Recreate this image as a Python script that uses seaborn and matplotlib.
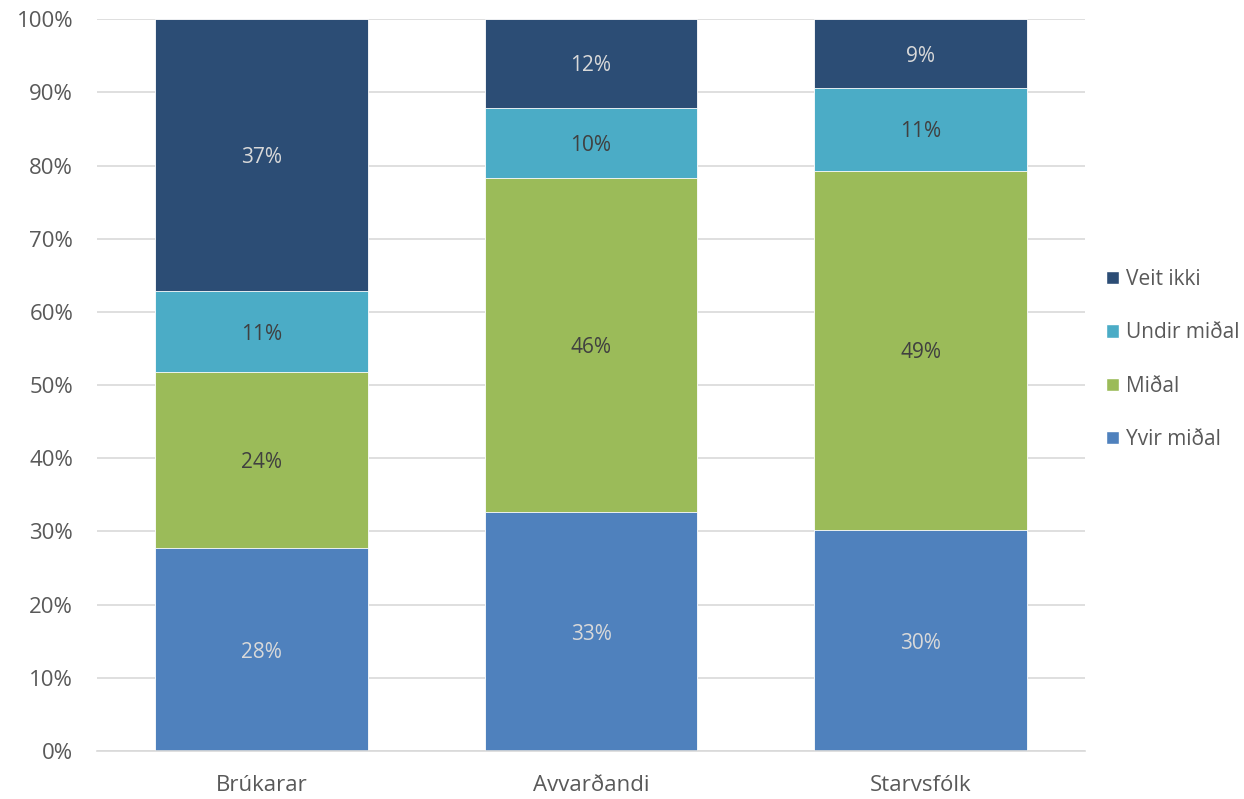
import matplotlib
matplotlib.use("Agg")
import matplotlib.pyplot as plt
import seaborn as sns
import pandas as pd
import numpy as np
from matplotlib.patches import Patch

# Data (percent)
hopar = ['Brúkarar', 'Avvarðandi', 'Starvsfólk']
yvir_midal = [27.7, 32.6, 30.2]
midal = [24.1, 45.7, 49.1]
undir_midal = [11.0, 9.6, 11.3]
veit_ikki = [37.2, 12.1, 9.4]

serir = ['Yvir miðal', 'Miðal', 'Undir miðal', 'Veit ikki']
litir = ['#4F81BD', '#9BBB59', '#4BACC6', '#2C4D75']
tekstlitir = ['#D9D9D9', '#404040', '#404040', '#D9D9D9']

sns.set_theme(style='white')
plt.rcParams['font.family'] = ['Open Sans', 'DejaVu Sans']

df = pd.DataFrame({'Hópur': hopar, 'Yvir miðal': yvir_midal, 'Miðal': midal,
                   'Undir miðal': undir_midal, 'Veit ikki': veit_ikki})
cum = df[serir].cumsum(axis=1)

fig = plt.figure(figsize=(12.44, 7.99), dpi=100)
ax = fig.add_axes([0.0778, 0.06, 0.7946, 0.916])

# draw cumulative totals from top down so lower series overlay
for s, c in reversed(list(zip(serir, litir))):
    sns.barplot(x=df['Hópur'], y=cum[s], color=c, width=0.646, ax=ax,
                edgecolor='white', linewidth=0.6, saturation=1)

# segment labels
for i in range(len(hopar)):
    bottom = 0
    for s, tc in zip(serir, tekstlitir):
        v = df.loc[i, s]
        ax.text(i, bottom + v / 2, f'{round(v):d}%', ha='center', va='center_baseline',
                fontsize=15, color=tc)
        bottom += v

ax.set_ylim(0, 100)
ax.set_xlim(-0.5, 2.5)
ax.set_yticks(np.arange(0, 101, 10))
ax.set_yticklabels([f'{t}%' for t in range(0, 101, 10)])
ax.yaxis.grid(True, color='#D9D9D9', linewidth=1.2)
ax.set_axisbelow(True)
for sp in ['top', 'right', 'left']:
    ax.spines[sp].set_visible(False)
ax.spines['bottom'].set_color('#D9D9D9')
ax.spines['bottom'].set_linewidth(1.2)
ax.tick_params(axis='both', length=0, labelsize=16, colors='#595959')
ax.tick_params(axis='y', pad=17)
ax.tick_params(axis='x', pad=17)
ax.set_xlabel('')
ax.set_ylabel('')

handles = [Patch(facecolor=c, label=s) for s, c in zip(serir, litir)][::-1]
leg = fig.legend(handles=handles, loc='center left', bbox_to_anchor=(0.874, 0.55),
                 frameon=False, fontsize=15, labelspacing=1.55, handlelength=0.6,
                 handleheight=0.6, handletextpad=0.35)
for t in leg.get_texts():
    t.set_color('#595959')

fig.savefig('out.png', dpi=100)
